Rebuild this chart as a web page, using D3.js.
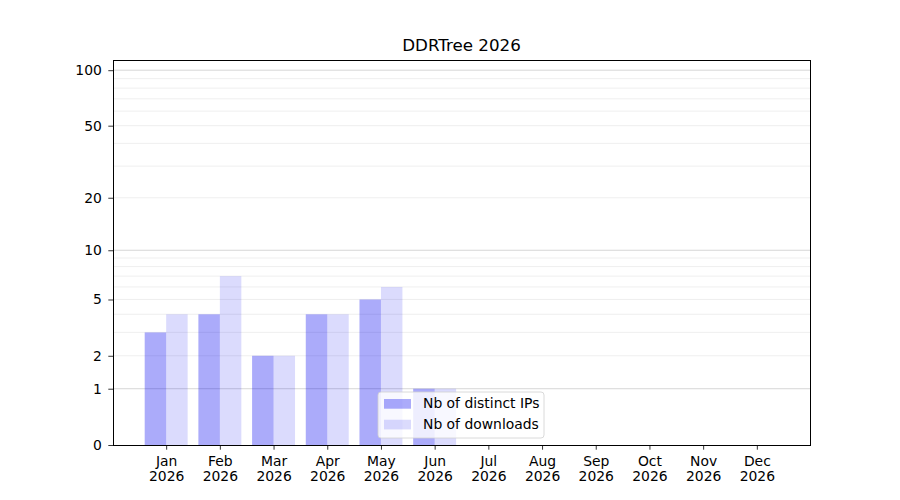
<!DOCTYPE html>
<html>
<head>
<meta charset="utf-8">
<script src="https://cdn.jsdelivr.net/npm/d3@7"></script>
<style>
  body { margin: 0; background: #fff; }
  text { font-family: "DejaVu Sans", sans-serif; }
</style>
</head>
<body>
<div id="chart"></div>
<script>
// data
var months = ["Jan", "Feb", "Mar", "Apr", "May", "Jun", "Jul", "Aug", "Sep", "Oct", "Nov", "Dec"];
var year = "2026";
var distinctIps = [3, 4, 2, 4, 5, 1, 0, 0, 0, 0, 0, 0];
var downloads = [4, 7, 2, 4, 6, 1, 0, 0, 0, 0, 0, 0];
var yTicks = [0, 1, 2, 5, 10, 20, 50, 100];
var yMajorGrid = [1, 10, 100];
var yMinorGrid = [2, 3, 4, 5, 6, 7, 8, 9, 20, 30, 40, 50, 60, 70, 80, 90];
var seriesNames = ["Nb of distinct IPs", "Nb of downloads"];
var title = "DDRTree 2026";

// set the dimensions and margins of the graph
var margin = {top: 60, right: 90, bottom: 55, left: 113},
    width = 900 - margin.left - margin.right,
    height = 500 - margin.top - margin.bottom;

var svg = d3.select("#chart")
  .append("svg")
    .attr("width", 900)
    .attr("height", 500)
  .append("g")
    .attr("transform", "translate(" + margin.left + "," + margin.top + ")");

// x: one unit per month, bars of 0.4 on each side of the tick
var x = d3.scaleLinear()
    .domain([-0.99, months.length - 1 + 0.99])
    .range([0, width]);
var barW = 0.4;

// y: log(1 + v) scale, like the reference
var yLog = d3.scaleLog()
    .domain([1, 114.5])
    .range([height, 0]);
function y(v) { return yLog(v + 1); }

// grid
svg.append("g").selectAll("line")
  .data(yMinorGrid)
  .enter().append("line")
    .attr("x1", 0).attr("x2", width)
    .attr("y1", function(d) { return y(d); })
    .attr("y2", function(d) { return y(d); })
    .attr("stroke", "#ebebeb")
    .attr("stroke-width", 0.8);
svg.append("g").selectAll("line")
  .data(yMajorGrid)
  .enter().append("line")
    .attr("x1", 0).attr("x2", width)
    .attr("y1", function(d) { return y(d); })
    .attr("y2", function(d) { return y(d); })
    .attr("stroke", "#cccccc")
    .attr("stroke-width", 0.8);

// bars
var colors = ["rgba(0,0,240,0.33)", "rgba(0,0,240,0.14)"];
var series = [distinctIps, downloads];
series.forEach(function(vals, s) {
  svg.append("g").selectAll("rect")
    .data(vals)
    .enter().append("rect")
      .attr("x", function(d, i) { return x(s === 0 ? i - barW : i); })
      .attr("width", x(barW) - x(0))
      .attr("y", function(d) { return y(d); })
      .attr("height", function(d) { return height - y(d); })
      .attr("fill", colors[s]);
});

// axes
var xAxis = svg.append("g")
    .attr("transform", "translate(0," + height + ")")
    .call(d3.axisBottom(x)
      .tickValues(d3.range(months.length))
      .tickSize(4.7)
      .tickPadding(6.4)
      .tickFormat(function(i) { return months[i]; }));
xAxis.selectAll(".tick text")
    .each(function(i) {
      var self = d3.select(this);
      self.text("");
      self.append("tspan").attr("x", 0).attr("dy", "0.71em").text(months[i]);
      self.append("tspan").attr("x", 0).attr("dy", "1.08em").text(year);
    });

var yAxis = svg.append("g")
    .call(d3.axisLeft(yLog)
      .tickValues(yTicks.map(function(v) { return v + 1; }))
      .tickSize(4.7)
      .tickPadding(6.5)
      .tickFormat(function(d) { return Math.round(d - 1); }));

[xAxis, yAxis].forEach(function(a) {
  a.select(".domain").remove();
  a.selectAll(".tick line").attr("stroke", "#000").attr("stroke-width", 0.8);
  a.selectAll(".tick text")
    .attr("fill", "#000")
    .style("font-size", "13.9px")
    .style("font-family", "'DejaVu Sans', sans-serif");
});

// frame
svg.append("rect")
    .attr("width", width).attr("height", height)
    .attr("fill", "none")
    .attr("stroke", "#000")
    .attr("stroke-width", 1)
    .attr("shape-rendering", "crispEdges");

// title
svg.append("text")
    .attr("x", width / 2).attr("y", -9.3)
    .attr("text-anchor", "middle")
    .style("font-size", "16.7px")
    .text(title);

// legend
var legend = svg.append("g")
    .attr("transform", "translate(" + (378 - margin.left) + "," + (392 - margin.top) + ")");
legend.append("rect")
    .attr("width", 166).attr("height", 46)
    .attr("rx", 3)
    .attr("fill", "rgba(255,255,255,0.8)")
    .attr("stroke", "#d0d0d0")
    .attr("stroke-width", 0.8);
seriesNames.forEach(function(name, s) {
  legend.append("rect")
      .attr("x", 6).attr("y", 7 + s * 20.7)
      .attr("width", 27).attr("height", 9.7)
      .attr("fill", colors[s]);
  legend.append("text")
      .attr("x", 45).attr("y", 16 + s * 20.8)
      .style("font-size", "13.9px")
      .text(name);
});
</script>
</body>
</html>
